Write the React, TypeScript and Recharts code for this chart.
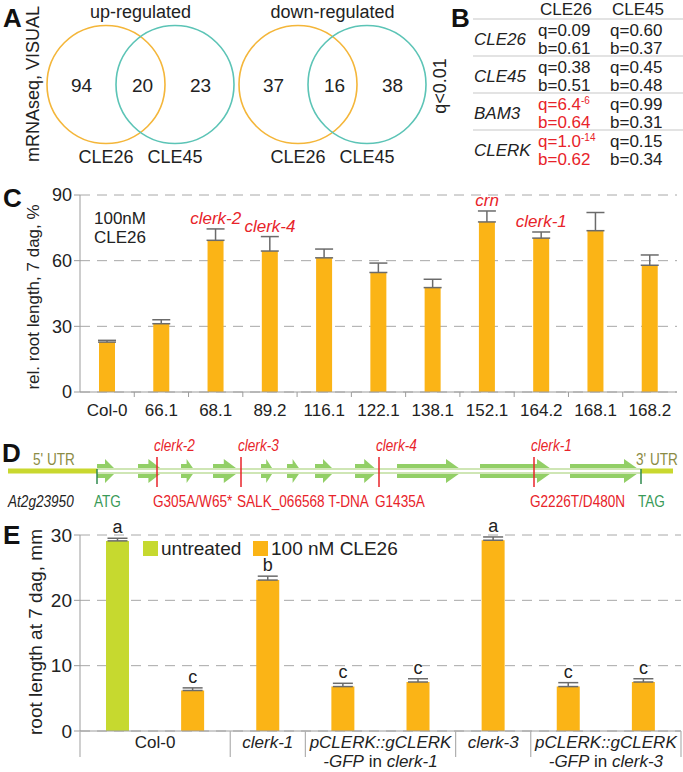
import React from 'react';
import {
  ComposedChart,
  Bar,
  Cell,
  ErrorBar,
  Scatter,
  XAxis,
  YAxis,
  CartesianGrid,
  ReferenceArea,
  ReferenceLine,
} from 'recharts';

const FONT = "'Liberation Sans', Arial, Helvetica, sans-serif";
const ORANGE = '#fbb416';
const LIME = '#c6d92f';
const RED = '#e8232a';
const GRID = '#9c9c9c';
const TEAL = '#5cc4b6';
const VENN_ORANGE = '#f4b63a';
const EXON = '#92cf66';
const UTR = '#c9d82f';
const CODON = '#2f8a4e';
const OLIVE = '#8c8c45';

// A: venn counts [only first, both, only second]
const vennTitles = ['up-regulated', 'down-regulated'];
const vennSets = ['CLE26', 'CLE45'];
const vennUp = [94, 20, 23];
const vennDown = [37, 16, 38];

// B: table
const bTreat = ['CLE26', 'CLE45'];
const bGenes = ['CLE26', 'CLE45', 'BAM3', 'CLERK'];
const bQ26 = ['0.09', '0.38', '6.4', '1.0'];
const bQ26Exp = ['', '', '-6', '-14'];
const bB26 = ['0.61', '0.51', '0.64', '0.62'];
const bQ45 = ['0.60', '0.45', '0.99', '0.15'];
const bB45 = ['0.37', '0.48', '0.31', '0.34'];
const bSig26 = [false, false, true, true];

// C: relative root length
const cLines = ['Col-0', '66.1', '68.1', '89.2', '116.1', '122.1', '138.1', '152.1', '164.2', '168.1', '168.2'];
const cMean = [22.8, 31.2, 69.3, 64.4, 61.3, 54.6, 47.7, 77.7, 70.3, 73.7, 57.9];
const cErr = [0.8, 1.8, 5.2, 6.6, 4.0, 4.3, 3.8, 5.0, 2.8, 8.3, 4.7];
const cTags = ['', '', 'clerk-2', 'clerk-4', '', '', '', 'crn', 'clerk-1', '', ''];
const cYTicks = [0, 30, 60, 90];

// D: gene model (diagram coordinates)
const geneUtr5 = [8, 97];
const geneUtr3 = [641, 673];
const geneExonStart = [97, 138, 181, 213, 261, 287, 315, 355, 397, 480, 570];
const geneExonEnd = [117, 164, 195, 240, 274, 301, 335, 378, 463, 554, 641];
const markPos = [97, 157, 241, 379, 534, 641];
const markName = ['', 'clerk-2', 'clerk-3', 'clerk-4', 'clerk-1', ''];
const markCode = ['ATG', 'G305A/W65*', 'SALK_066568 T-DNA', 'G1435A', 'G2226T/D480N', 'TAG'];

// E: root length at 7 dag
const eSlots = ['Col-0 u', 'Col-0 t', 'clerk-1', 'pc1 a', 'pc1 b', 'clerk-3', 'pc3 a', 'pc3 b'];
const eTreated = [false, true, true, true, true, true, true, true];
const eMean = [29.1, 6.2, 23.1, 6.8, 7.5, 29.2, 6.8, 7.5];
const eErr = [0.4, 0.4, 0.6, 0.5, 0.5, 0.5, 0.6, 0.5];
const eLetters = ['a', 'c', 'b', 'c', 'c', 'a', 'c', 'c'];
const eGroups = ['Col-0', 'clerk-1', 'pCLERK::gCLERK', 'clerk-3', 'pCLERK::gCLERK'];
const eGroupSize = [2, 1, 2, 1, 2];
const eGroupItalic = [false, true, true, true, true];
const eGroupSub = ['', '', 'clerk-1', '', 'clerk-3'];
const eYTicks = [0, 10, 20, 30];

const W = 683;
const Y_W = 80;
const C_RIGHT = 6;
const E_RIGHT = 2;
const cBand = (W - Y_W - C_RIGHT) / cLines.length;
const eBand = (W - Y_W - E_RIGHT) / eSlots.length;

const cData = cLines.map((line, i) => ({
  line,
  mean: cMean[i],
  err: [0, cErr[i]],
  top: cMean[i] + cErr[i],
  tag: cTags[i],
}));

const eGroupStart: number[] = [];
eGroupSize.reduce((s, n) => {
  eGroupStart.push(s);
  return s + n;
}, 0);
const eData = eSlots.map((slot, i) => ({
  slot,
  mean: eMean[i],
  err: [0, eErr[i]],
  top: eMean[i] + eErr[i],
  letter: eLetters[i],
}));

const dData = markPos.map((pos, i) => ({ pos, track: 0.5, name: markName[i], code: markCode[i] }));

// condensed text (no narrow font installed)
function Narrow({ x, y, children, ...rest }: any) {
  return (
    <text transform={`translate(${x},${y}) scale(0.8,1)`} fontSize={17} fontFamily={FONT} {...rest}>
      {children}
    </text>
  );
}

function Venn({ mid, title, counts }: { mid: number; title: string; counts: number[] }) {
  const r = 59;
  const cy = 84.5;
  const c1 = mid - 34.5;
  const c2 = mid + 34.5;
  const xs = [(c1 - r + c2 - r) / 2, mid + 2, (c1 + r + c2 + r) / 2 + 1];
  return (
    <g>
      <text x={mid} y={18} textAnchor="middle" fontSize={18}>{title}</text>
      <circle cx={c1} cy={cy} r={r} fill="none" stroke={VENN_ORANGE} strokeWidth={1.6} />
      <circle cx={c2} cy={cy} r={r} fill="none" stroke={TEAL} strokeWidth={1.6} />
      {counts.map((c, i) => (
        <text key={i} x={xs[i]} y={cy + 7} textAnchor="middle" fontSize={19}>{c}</text>
      ))}
      <text x={c1} y={163} textAnchor="middle" fontSize={18}>{vennSets[0]}</text>
      <text x={c2} y={163} textAnchor="middle" fontSize={18}>{vennSets[1]}</text>
    </g>
  );
}

function Table() {
  const colX = [538, 610];
  return (
    <g fontSize={17}>
      {bTreat.map((t, j) => (
        <text key={t} x={colX[j] + 2} y={15}>{t}</text>
      ))}
      {bGenes.map((g, i) => {
        const s = 19 + i * 37;
        const red = bSig26[i] ? RED : '#222';
        return (
          <g key={g}>
            <line x1={473} x2={683} y1={s} y2={s} stroke="#c8c8c8" strokeWidth={1.2} />
            <text x={474} y={s + 26} fontStyle="italic" fontSize={17}>{g}</text>
            <text x={colX[0]} y={s + 17} fill={red}>
              q={bQ26[i]}
              {bQ26Exp[i] ? <tspan dy={-6} fontSize={10}>{bQ26Exp[i]}</tspan> : null}
            </text>
            <text x={colX[0]} y={s + 35} fill={red}>b={bB26[i]}</text>
            <text x={colX[1]} y={s + 17}>q={bQ45[i]}</text>
            <text x={colX[1]} y={s + 35}>b={bB45[i]}</text>
          </g>
        );
      })}
    </g>
  );
}

function Annotations() {
  return (
    <svg width={683} height={772} style={{ position: 'absolute', left: 0, top: 0 }} fontFamily={FONT} fill="#222">
      <g fontSize={26} fontWeight="bold" fill="#111">
        <text x={3} y={27}>A</text>
        <text x={451} y={27}>B</text>
        <text x={3} y={207}>C</text>
        <text x={2} y={462}>D</text>
        <text x={3} y={544}>E</text>
      </g>
      <text transform="translate(39,84) rotate(-90)" textAnchor="middle" fontSize={18}>mRNAseq, VISUAL</text>
      <Venn mid={140.5} title={vennTitles[0]} counts={vennUp} />
      <Venn mid={332.5} title={vennTitles[1]} counts={vennDown} />
      <text transform="translate(446,86) rotate(-90)" textAnchor="middle" fontSize={18}>q&lt;0.01</text>
      <Table />

      <text transform="translate(39,297) rotate(-90)" textAnchor="middle" fontSize={17}>rel. root length, 7 dag, %</text>
      <text x={94} y={224} fontSize={17}>100nM</text>
      <text x={94} y={243} fontSize={17}>CLE26</text>

      <Narrow x={33} y={465} fill={OLIVE}>5' UTR</Narrow>
      <Narrow x={636} y={465} fill={OLIVE}>3' UTR</Narrow>
      <Narrow x={8} y={507} fontStyle="italic">At2g23950</Narrow>

      <text transform="translate(42,632) rotate(-90)" textAnchor="middle" fontSize={19}>root length at 7 dag, mm</text>
      <rect x={143} y={541} width={15} height={15} fill={LIME} />
      <text x={161} y={555} fontSize={19}>untreated</text>
      <rect x={253} y={541} width={15} height={15} fill={ORANGE} />
      <text x={271} y={555} fontSize={19}>100 nM CLE26</text>
    </svg>
  );
}

function cTick(p: any) {
  const i = p.index;
  return (
    <g>
      {i < cLines.length - 1 ? (
        <line x1={p.x + cBand / 2} x2={p.x + cBand / 2} y1={p.y} y2={p.y + 5} stroke={GRID} />
      ) : null}
      <text x={p.x} y={p.y + 24} textAnchor="middle" fontSize={17} fill="#222" fontFamily={FONT}>
        {p.payload.value}
      </text>
    </g>
  );
}

function cTag(p: any) {
  if (!p.payload || !p.payload.tag) return <g />;
  return (
    <text x={p.cx} y={p.cy - 5} textAnchor="middle" fill={RED} fontStyle="italic" fontSize={17} fontFamily={FONT}>
      {p.payload.tag}
    </text>
  );
}

function PanelC() {
  return (
    <ComposedChart width={W} height={250} data={cData} margin={{ top: 15, right: C_RIGHT, bottom: 0, left: 0 }}>
      <CartesianGrid vertical={false} stroke="#a8a8a8" strokeDasharray="10 7" />
      <XAxis
        dataKey="line"
        type="category"
        interval={0}
        tickSize={0}
        tickMargin={0}
        height={38}
        axisLine={{ stroke: GRID }}
        tickLine={false}
        tick={cTick}
      />
      <YAxis
        domain={[0, 90]}
        ticks={cYTicks}
        width={Y_W}
        axisLine={{ stroke: GRID }}
        tickLine={{ stroke: GRID }}
        tick={{ fill: '#222', fontSize: 18, fontFamily: FONT }}
      />
      <Bar dataKey="mean" fill={ORANGE} barSize={16} isAnimationActive={false}>
        <ErrorBar dataKey="err" width={9} stroke="#6b6b6b" strokeWidth={1.5} />
      </Bar>
      <Scatter dataKey="top" shape={cTag} isAnimationActive={false} />
    </ComposedChart>
  );
}

function exonArrow(p: any) {
  const { x, y, width, height } = p;
  const mid = y + height / 2;
  const head = Math.min(17, width * 0.6);
  const bh = 7;
  const hh = height / 2;
  const xb = x + width - head;
  const pts = [
    [x, mid - bh], [xb, mid - bh], [xb, mid - hh], [x + width, mid],
    [xb, mid + hh], [xb, mid + bh], [x, mid + bh],
  ].map((q) => q.join(',')).join(' ');
  return <polygon points={pts} fill={EXON} />;
}

function geneMark(p: any) {
  const { cx, cy, payload } = p;
  if (!payload) return <g />;
  if (!payload.name) {
    return (
      <g>
        <line x1={cx} x2={cx} y1={cy - 2} y2={cy + 13} stroke={CODON} strokeWidth={1.5} />
        <Narrow x={cx - 3} y={cy + 36} fill="#3a9a58">{payload.code}</Narrow>
      </g>
    );
  }
  return (
    <g>
      <line x1={cx} x2={cx} y1={cy - 14} y2={cy + 16} stroke={RED} strokeWidth={1.5} />
      <Narrow x={cx - 3} y={cy - 20} fill={RED} fontStyle="italic">{payload.name}</Narrow>
      <Narrow x={cx - 4} y={cy + 36} fill={RED}>{payload.code}</Narrow>
    </g>
  );
}

function PanelD() {
  const y = 0.5;
  return (
    <ComposedChart width={W} height={90} data={dData} margin={{ top: 0, right: 0, bottom: 0, left: 0 }}>
      <XAxis dataKey="pos" type="number" domain={[0, 683]} allowDataOverflow height={0} hide />
      <YAxis type="number" domain={[0, 1]} allowDataOverflow width={0} hide />
      <ReferenceLine segment={[{ x: geneUtr5[0], y }, { x: geneUtr5[1], y }]} stroke={UTR} strokeWidth={5} />
      <ReferenceLine segment={[{ x: geneUtr3[0], y }, { x: geneUtr3[1], y }]} stroke={UTR} strokeWidth={5} />
      <ReferenceLine segment={[{ x: geneUtr5[1], y }, { x: geneUtr3[0], y }]} stroke="#cfe6b5" strokeWidth={6} />
      <ReferenceLine segment={[{ x: geneUtr5[1], y }, { x: geneUtr3[0], y }]} stroke="#ffffff" strokeWidth={2} />
      {geneExonStart.map((s, i) => (
        <ReferenceArea key={i} x1={s} x2={geneExonEnd[i]} y1={0.3667} y2={0.6333} shape={exonArrow} />
      ))}
      <Scatter dataKey="track" shape={geneMark} isAnimationActive={false} />
    </ComposedChart>
  );
}

function eTick(p: any) {
  const i = p.index;
  const gi = eGroupStart.indexOf(i);
  if (gi < 0) return <g />;
  const size = eGroupSize[gi];
  const left = p.x - eBand / 2;
  const right = left + size * eBand;
  const cx = (left + right) / 2;
  return (
    <g fontFamily={FONT} fontSize={17} fill="#222">
      <line x1={left} x2={left} y1={p.y} y2={p.y + 26} stroke="#b0b0b0" strokeWidth={1.2} />
      {gi === eGroups.length - 1 ? (
        <line x1={right} x2={right} y1={p.y} y2={p.y + 26} stroke="#b0b0b0" strokeWidth={1.2} />
      ) : null}
      <text x={cx} y={p.y + 17} textAnchor="middle" fontStyle={eGroupItalic[gi] ? 'italic' : 'normal'}>
        {eGroups[gi]}
      </text>
      {eGroupSub[gi] ? (
        <text x={cx} y={p.y + 36} textAnchor="middle">
          <tspan fontStyle="italic">-GFP</tspan>
          <tspan> in </tspan>
          <tspan fontStyle="italic">{eGroupSub[gi]}</tspan>
        </text>
      ) : null}
    </g>
  );
}

function eLetter(p: any) {
  if (!p.payload) return <g />;
  return (
    <text x={p.cx} y={p.cy - 5} textAnchor="middle" fontSize={18} fill="#222" fontFamily={FONT}>
      {p.payload.letter}
    </text>
  );
}

function PanelE() {
  return (
    <ComposedChart width={W} height={257} data={eData} margin={{ top: 20, right: E_RIGHT, bottom: 0, left: 0 }}>
      <CartesianGrid vertical={false} stroke="#a8a8a8" strokeDasharray="10 7" />
      <XAxis
        dataKey="slot"
        type="category"
        interval={0}
        tickSize={0}
        tickMargin={0}
        height={41}
        axisLine={{ stroke: GRID }}
        tickLine={false}
        tick={eTick}
      />
      <YAxis
        domain={[0, 30]}
        ticks={eYTicks}
        width={Y_W}
        axisLine={{ stroke: GRID }}
        tickLine={{ stroke: GRID }}
        tick={{ fill: '#222', fontSize: 19, fontFamily: FONT }}
      />
      <Bar dataKey="mean" barSize={23} isAnimationActive={false}>
        {eData.map((d, i) => (
          <Cell key={d.slot} fill={eTreated[i] ? ORANGE : LIME} />
        ))}
        <ErrorBar dataKey="err" width={10} stroke="#6b6b6b" strokeWidth={1.5} />
      </Bar>
      <Scatter dataKey="top" shape={eLetter} isAnimationActive={false} />
    </ComposedChart>
  );
}

export default function App() {
  return (
    <div
      style={{
        position: 'absolute',
        left: 0,
        top: 0,
        width: W,
        height: 772,
        background: '#fff',
        fontFamily: FONT,
        overflow: 'hidden',
      }}
    >
      <Annotations />
      <div style={{ position: 'absolute', left: 0, top: 180 }}>
        <PanelC />
      </div>
      <div style={{ position: 'absolute', left: 0, top: 426 }}>
        <PanelD />
      </div>
      <div style={{ position: 'absolute', left: 0, top: 515 }}>
        <PanelE />
      </div>
    </div>
  );
}
